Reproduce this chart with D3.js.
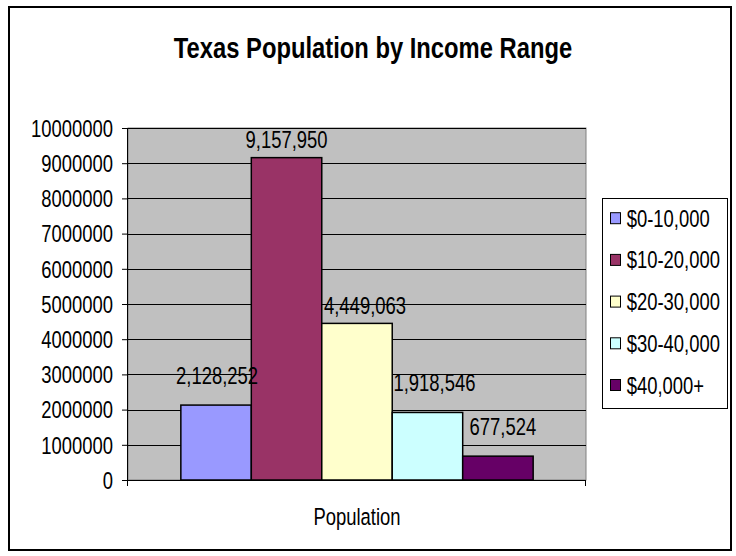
<!DOCTYPE html>
<html>
<head>
<meta charset="utf-8">
<script src="https://cdn.jsdelivr.net/npm/d3@7/dist/d3.min.js"></script>
<style>
  html, body { margin: 0; padding: 0; background: #fff; }
  svg { display: block; }
  text { font-family: "Liberation Sans", Arial, sans-serif; fill: #000; }
</style>
</head>
<body>
<svg id="chart" width="736" height="556"></svg>
<script>
// Income ranges and their population counts
const categories = ["$0-10,000", "$10-20,000", "$20-30,000", "$30-40,000", "$40,000+"];
const populations = [2128252, 9157950, 4449063, 1918546, 677524];
const yTicks = [0, 1000000, 2000000, 3000000, 4000000, 5000000, 6000000, 7000000, 8000000, 9000000, 10000000];
const groupLabel = "Population";
const title = "Texas Population by Income Range";

// Palette and label nudges (styling only)
const colors = ["#9999FF", "#993366", "#FFFFCC", "#CCFFFF", "#660066"];
const labelGap = [21, 10, 9, 21, 21];
const labelShift = [1, 0, 8, 7, 5];
const FONT = 23.5;
const NARROW = 0.785;      // condensed face: squeeze glyphs horizontally
const TITLE_NARROW = 0.82;

const svg = d3.select("#chart");

// Outer chart frame
svg.append("rect")
  .attr("x", 9).attr("y", 7).attr("width", 722).attr("height", 543)
  .attr("fill", "#fff").attr("stroke", "#000").attr("stroke-width", 2);

// Title
svg.append("text")
  .attr("class", "title")
  .attr("x", 373).attr("y", 58)
  .attr("text-anchor", "middle")
  .attr("font-size", 29).attr("font-weight", "bold")
  .text(title);

const plot = { left: 128, right: 586, top: 128, bottom: 480 };

const y = d3.scaleLinear().domain([0, 10000000]).range([plot.bottom, plot.top]);
const xGroup = d3.scaleBand().domain([groupLabel]).range([plot.left, plot.right]).paddingInner(0).paddingOuter(0.15);
const xBar = d3.scaleBand().domain(categories).range([0, xGroup.bandwidth()]);

// Plot area background
svg.append("rect")
  .attr("x", plot.left).attr("y", plot.top)
  .attr("width", plot.right - plot.left).attr("height", plot.bottom - plot.top)
  .attr("fill", "#C0C0C0").attr("stroke", "#808080").attr("stroke-width", 1);

// Gridlines
svg.append("g").selectAll("line").data(yTicks.slice(1)).join("line")
  .attr("x1", plot.left).attr("x2", plot.right)
  .attr("y1", d => Math.round(y(d)) + 0.5).attr("y2", d => Math.round(y(d)) + 0.5)
  .attr("stroke", "#000").attr("stroke-width", 1);

// Bars
const gx = xGroup(groupLabel);
svg.append("g").selectAll("rect").data(populations).join("rect")
  .attr("x", (d, i) => gx + xBar(categories[i]))
  .attr("y", d => y(d))
  .attr("width", xBar.bandwidth())
  .attr("height", d => y(0) - y(d))
  .attr("fill", (d, i) => colors[i])
  .attr("stroke", "#000").attr("stroke-width", 1.5);

// Value labels
const fmt = d3.format(",");
svg.append("g").selectAll("text").data(populations).join("text")
  .attr("x", (d, i) => gx + xBar(categories[i]) + xBar.bandwidth() / 2 + labelShift[i])
  .attr("y", (d, i) => y(d) - labelGap[i])
  .attr("text-anchor", "middle")
  .attr("font-size", FONT)
  .text(d => fmt(d));

// Y axis
const yAxis = d3.axisLeft(y).tickValues(yTicks).tickFormat(d3.format("d")).tickSize(6).tickPadding(9);
const gy = svg.append("g").attr("transform", `translate(${plot.left},0)`).call(yAxis);
gy.attr("font-family", null).attr("font-size", null);
gy.select(".domain").attr("stroke", "#000").attr("d", `M-0.5,${plot.top}V${plot.bottom}`);
gy.selectAll(".tick line").attr("stroke", "#000");
gy.selectAll(".tick text").attr("font-size", FONT).attr("fill", "#000").attr("dy", null)
  .attr("y", 8.3);

// X axis
const xAxis = d3.axisBottom(xGroup).tickSize(6).tickFormat(() => "");
const gxA = svg.append("g").attr("transform", `translate(0,${plot.bottom})`).call(xAxis);
gxA.select(".domain").attr("stroke", "#000").attr("d", `M${plot.left},0.5H${plot.right}`);
gxA.selectAll(".tick line").remove();
gxA.selectAll(".tick text").remove();
svg.append("line").attr("x1", plot.left - 0.5).attr("x2", plot.left - 0.5)
  .attr("y1", plot.bottom).attr("y2", plot.bottom + 6).attr("stroke", "#000");
svg.append("line").attr("x1", plot.right - 0.5).attr("x2", plot.right - 0.5)
  .attr("y1", plot.bottom).attr("y2", plot.bottom + 6).attr("stroke", "#000");

svg.append("text")
  .attr("x", gx + xGroup.bandwidth() / 2).attr("y", 525)
  .attr("text-anchor", "middle").attr("font-size", FONT)
  .text(groupLabel);

// Legend
const legend = svg.append("g");
legend.append("rect")
  .attr("x", 602.5).attr("y", 198.5).attr("width", 125).attr("height", 210)
  .attr("fill", "#fff").attr("stroke", "#000").attr("stroke-width", 1);
const items = legend.selectAll("g").data(categories).join("g")
  .attr("transform", (d, i) => `translate(610,${226.7 + i * 41.7})`);
items.append("rect")
  .attr("x", 0.5).attr("y", -14).attr("width", 10).attr("height", 11)
  .attr("fill", (d, i) => colors[i]).attr("stroke", "#000").attr("stroke-width", 1);
items.append("text")
  .attr("x", 16.7).attr("y", 0)
  .attr("font-size", FONT)
  .text(d => d);

// Condense every label to a narrow face by scaling it horizontally about its anchor
svg.selectAll("text").each(function () {
  const t = d3.select(this);
  const k = t.classed("title") ? TITLE_NARROW : NARROW;
  const tx = +t.attr("x") || 0;
  const ty = +t.attr("y") || 0;
  t.attr("x", 0).attr("y", 0)
    .attr("transform", `translate(${tx},${ty}) scale(${k},1)`);
});
</script>
</body>
</html>
